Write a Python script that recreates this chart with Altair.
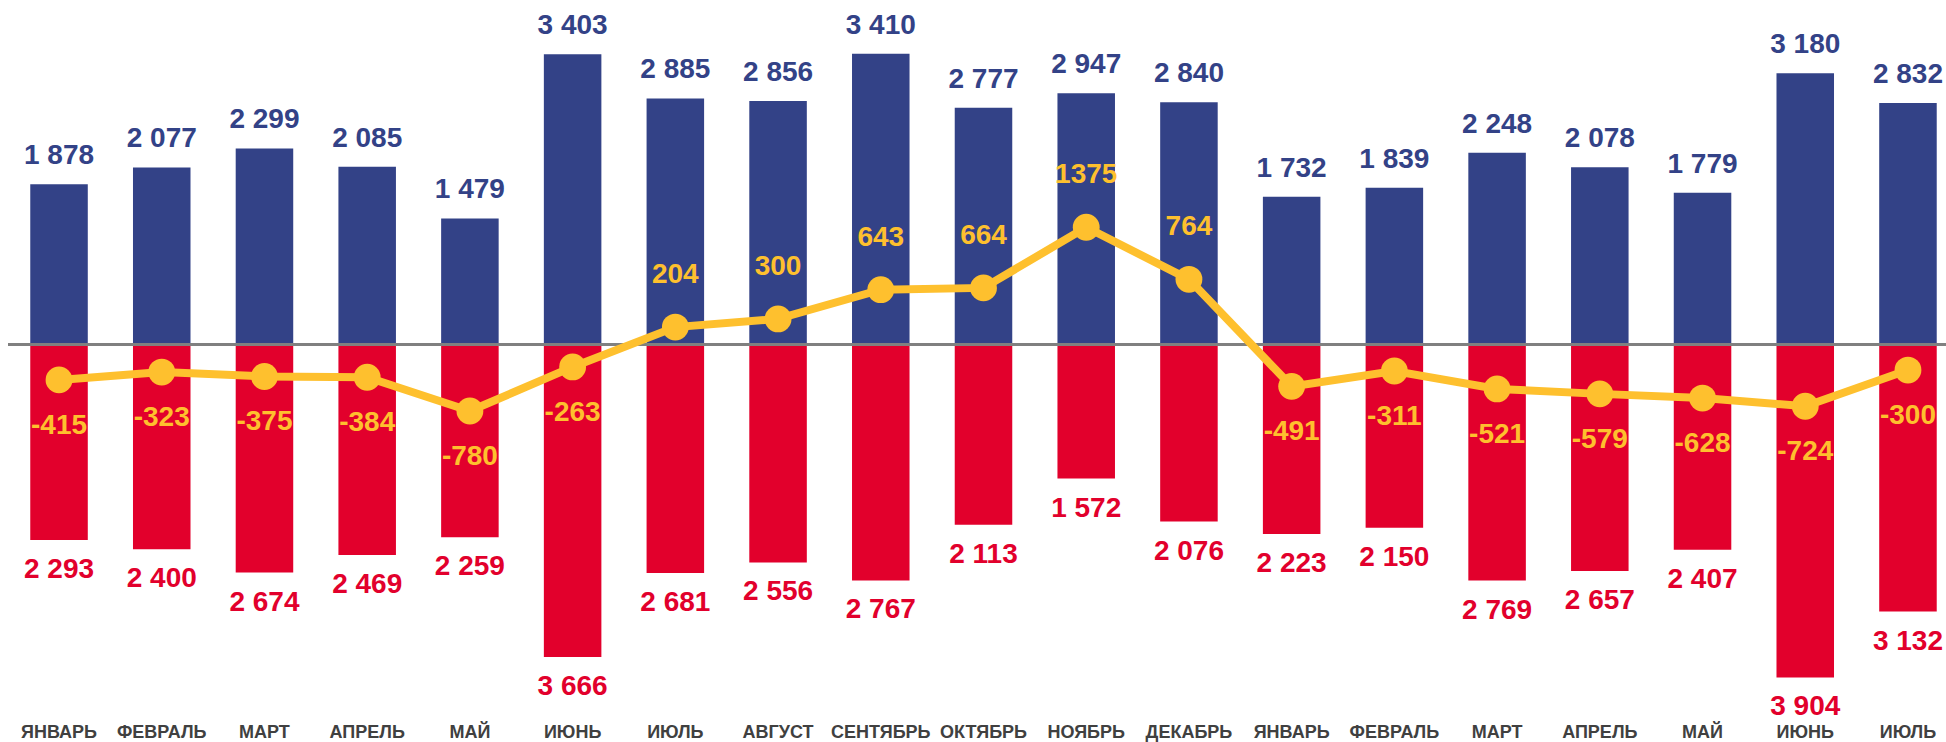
import altair as alt
import pandas as pd

months = ["ЯНВАРЬ", "ФЕВРАЛЬ", "МАРТ", "АПРЕЛЬ", "МАЙ", "ИЮНЬ", "ИЮЛЬ", "АВГУСТ",
          "СЕНТЯБРЬ", "ОКТЯБРЬ", "НОЯБРЬ", "ДЕКАБРЬ", "ЯНВАРЬ", "ФЕВРАЛЬ", "МАРТ",
          "АПРЕЛЬ", "МАЙ", "ИЮНЬ", "ИЮЛЬ"]
inflow = [1878, 2077, 2299, 2085, 1479, 3403, 2885, 2856, 3410, 2777, 2947, 2840,
          1732, 1839, 2248, 2078, 1779, 3180, 2832]
outflow = [2293, 2400, 2674, 2469, 2259, 3666, 2681, 2556, 2767, 2113, 1572, 2076,
           2223, 2150, 2769, 2657, 2407, 3904, 3132]
balance = [-415, -323, -375, -384, -780, -263, 204, 300, 643, 664, 1375, 764,
           -491, -311, -521, -579, -628, -724, -300]

keys = [f"{i:02d}" for i in range(len(months))]
df = pd.DataFrame({
    "key": keys,
    "month": months,
    "inflow": inflow,
    "outflow_neg": [-v for v in outflow],
    "outflow": outflow,
    "balance": balance,
    "zero": [0] * len(months),
})

BLUE = "#334287"
RED = "#E2002C"
YELLOW = "#FEC02E"
GRAY = "#808080"
FONT = "Liberation Sans"

label_js = "[" + ",".join(f"'{m}'" for m in months) + "]"

xscale = alt.Scale(paddingInner=0.44, paddingOuter=0.1535, align=0.706)
yscale = alt.Scale(domain=[-4169, 4040], nice=False, zero=False)

x_enc = alt.X("key:N", scale=xscale, sort=keys,
              axis=alt.Axis(title=None, ticks=False, tickSize=0, domain=False, grid=False,
                            labelAngle=0, labelFont=FONT, labelFontSize=18,
                            labelFontWeight="bold", labelColor="#404040",
                            labelPadding=23,
                            labelExpr=f"{label_js}[toNumber(datum.value)]"))

base = alt.Chart(df).encode(x=x_enc)

blue_bars = base.mark_bar(color=BLUE).encode(
    y=alt.Y("inflow:Q", scale=yscale, axis=None))
red_bars = base.mark_bar(color=RED).encode(
    y=alt.Y("outflow_neg:Q", scale=yscale, axis=None))

zero = alt.Chart(df).mark_rule(color=GRAY, strokeWidth=3).encode(
    y=alt.Y("zero:Q", scale=yscale, axis=None))

blue_txt = base.transform_calculate(
    lbl="replace(format(datum.inflow, ','), ',', ' ')"
).mark_text(color=BLUE, font=FONT, fontSize=28, fontWeight="bold",
            baseline="middle", dy=-28).encode(
    y=alt.Y("inflow:Q", scale=yscale, axis=None), text="lbl:N")

red_txt = base.transform_calculate(
    lbl="replace(format(datum.outflow, ','), ',', ' ')"
).mark_text(color=RED, font=FONT, fontSize=28, fontWeight="bold",
            baseline="middle", dy=30).encode(
    y=alt.Y("outflow_neg:Q", scale=yscale, axis=None), text="lbl:N")

line = base.mark_line(color=YELLOW, strokeWidth=8).encode(
    y=alt.Y("balance:Q", scale=yscale, axis=None))
pts = base.mark_point(color=YELLOW, filled=True, opacity=1, size=720).encode(
    y=alt.Y("balance:Q", scale=yscale, axis=None))

bal_pos = base.transform_filter("datum.balance >= 0").transform_calculate(
    lbl="toString(datum.balance)"
).mark_text(
    color=YELLOW, font=FONT, fontSize=28, fontWeight="bold",
    baseline="middle", dy=-52).encode(
    y=alt.Y("balance:Q", scale=yscale, axis=None), text="lbl:N")
bal_neg = base.transform_filter("datum.balance < 0").transform_calculate(
    lbl="toString(datum.balance)"
).mark_text(
    color=YELLOW, font=FONT, fontSize=28, fontWeight="bold",
    baseline="middle", dy=46).encode(
    y=alt.Y("balance:Q", scale=yscale, axis=None), text="lbl:N")

chart = alt.layer(
    blue_bars, red_bars, zero, blue_txt, red_txt, line, pts, bal_pos, bal_neg
).properties(
    width=1938, height=700,
    padding={"left": 8, "top": 0, "right": 0, "bottom": 42},
    autosize=alt.AutoSizeParams(type="none"),
    background="white",
).configure_view(stroke=None, strokeWidth=0)

chart.save("out.html", embed_options={"renderer": "svg", "actions": False})
